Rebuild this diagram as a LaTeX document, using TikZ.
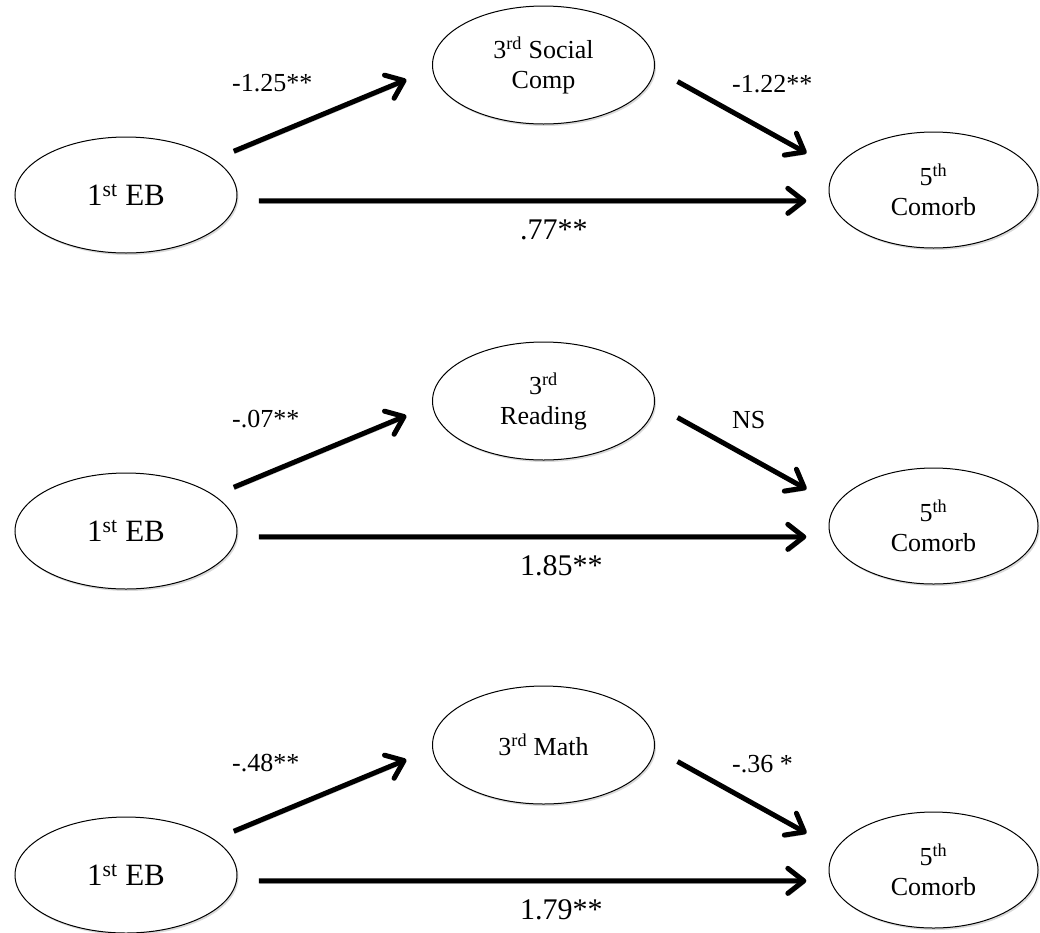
\documentclass[tikz,border=0pt]{standalone}
\usepackage{fontspec}
\setmainfont{Liberation Serif}
\usetikzlibrary{calc}
\usetikzlibrary{shapes.geometric}
\usetikzlibrary{arrows.meta}
\usetikzlibrary{shadows}

\begin{document}
\begin{tikzpicture}[x=1pt,y=-1pt,
        latent/.style={ellipse,draw,line width=1pt,fill=white,inner sep=0pt,
            minimum width=222pt,minimum height=116pt,align=center,
            font=\fontsize{26}{30}\selectfont,
            drop shadow={shadow xshift=1.5pt,shadow yshift=-2pt,opacity=0.3}},
        effect/.style={line width=5pt,-{Straight Barb[length=16pt,width=25pt,round]},
            preaction={draw=black!25,transform canvas={shift={(1pt,-2.5pt)}}}},
        tomed/.style={effect,shorten <=21pt,shorten >=28pt},
        frommed/.style={effect,shorten <=26pt,shorten >=33pt},
        direct/.style={effect,shorten <=22pt,shorten >=24pt},
        coef/.style={anchor=west,inner sep=0pt,font=\fontsize{26}{30}\selectfont},
        coefbig/.style={coef,font=\fontsize{30}{34}\selectfont}]
            % Vertical offsets of the second and third model
            \def\dy{336}
            \def\dz{680}

            \useasboundingbox (0,0) rectangle (1040,932);

            % Draw the social competence model
            \node[latent,font=\fontsize{31}{34}\selectfont] (eb1) at (126,195) {1\textsuperscript{st} EB};
            \node[latent,minimum height=118pt] (soc1) at (543.5,65) {3\textsuperscript{rd} Social\\Comp};
            \node[latent,minimum width=209pt] (com1) at (933.5,190) {5\textsuperscript{th}\\Comorb};

            \draw[tomed] (eb1.22.7) -- (soc1.182.4);
            \draw[frommed] (soc1.358.8) -- (com1.168);
            \draw[direct] (eb1.-3.6) -- (com1.186.7);

            \node[coef] (a1) at (232,83.5) {-1.25**};
            \node[coef] (b1) at (732,84) {-1.22**};
            \node[coefbig] (c1) at (520,230) {.77**};

            % Draw the reading model
            \node[latent,font=\fontsize{31}{34}\selectfont] (eb2) at (126,195+\dy) {1\textsuperscript{st} EB};
            \node[latent,minimum height=118pt] (read2) at (543.5,65+\dy) {3\textsuperscript{rd}\\Reading};
            \node[latent,minimum width=209pt] (com2) at (933.5,190+\dy) {5\textsuperscript{th}\\Comorb};

            \draw[tomed] (eb2.22.7) -- (read2.182.4);
            \draw[frommed] (read2.358.8) -- (com2.168);
            \draw[direct] (eb2.-3.6) -- (com2.186.7);

            \node[coef] (a2) at (232,83.5+\dy) {-.07**};
            \node[coef] (b2) at (732,84+\dy) {NS};
            \node[coefbig] (c2) at (520,230+\dy) {1.85**};

            % Draw the math model
            \node[latent,font=\fontsize{31}{34}\selectfont] (eb3) at (126,195+\dz) {1\textsuperscript{st} EB};
            \node[latent,minimum height=118pt] (math3) at (543.5,65+\dz) {3\textsuperscript{rd} Math};
            \node[latent,minimum width=209pt] (com3) at (933.5,190+\dz) {5\textsuperscript{th}\\Comorb};

            \draw[tomed] (eb3.22.7) -- (math3.182.4);
            \draw[frommed] (math3.358.8) -- (com3.168);
            \draw[direct] (eb3.-3.6) -- (com3.186.7);

            \node[coef] (a3) at (232,83.5+\dz) {-.48**};
            \node[coef] (b3) at (732,84+\dz) {-.36 *};
            \node[coefbig] (c3) at (520,230+\dz) {1.79**};

        \end{tikzpicture}
\end{document}
